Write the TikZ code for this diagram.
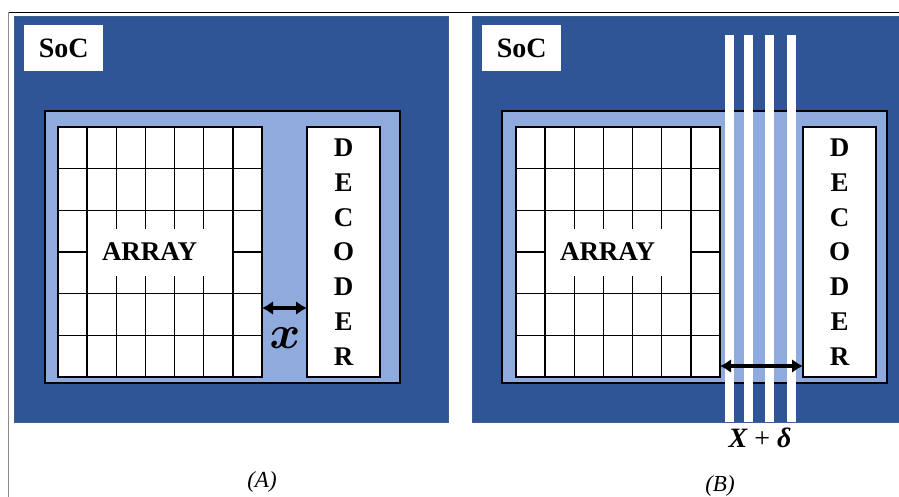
\documentclass[tikz,border=0pt]{standalone}
\usepackage{amsmath}
\usepackage{fontspec}
\setmainfont{Liberation Serif}
\usetikzlibrary{arrows.meta,calc}
\definecolor{socblue}{HTML}{2F5597}
\definecolor{socedge}{HTML}{3D5F92}
\definecolor{coreblue}{HTML}{8FAADC}
\definecolor{framegray}{HTML}{8C8C8C}
\tikzset{
  socpanel/.style={draw=socedge,fill=socblue,line width=0.8pt,anchor=north west,inner sep=0pt,outer sep=0pt},
  corebox/.style={draw=black,fill=coreblue,line width=2.4pt,anchor=north west,inner sep=0pt,outer sep=0pt},
  arraygrid/.style={draw=black,fill=white,line width=1.6pt,anchor=north west,minimum width=204pt,minimum height=250pt,inner sep=0pt,outer sep=0pt},
  gridline/.style={line width=1.4pt},
  lblbox/.style={fill=white,minimum height=47pt,text width=116pt,inner xsep=14pt,inner ysep=0pt,align=left,font=\fontsize{27}{29}\selectfont\bfseries},
  decbox/.style={draw=black,fill=white,line width=1.6pt,anchor=north west,minimum width=73pt,minimum height=250pt,inner sep=0pt,outer sep=0pt,align=center,font=\fontsize{27}{34.8}\selectfont\bfseries},
  tagbox/.style={fill=white,anchor=north west,minimum width=79pt,minimum height=46pt,inner sep=0pt,font=\fontsize{28}{30}\selectfont\bfseries},
  dimarr/.style={{Latex[length=11pt,width=14pt]}-{Latex[length=11pt,width=14pt]},line width=3.6pt},
  subcap/.style={font=\fontsize{23}{25}\selectfont\itshape}
}

\begin{document}
\begin{tikzpicture}[x=1pt,y=-1pt]
  \useasboundingbox (0,0) rectangle (899,497);
  \draw[line width=0.8pt] (8,12) -- (899,12);
  \draw[framegray,line width=1pt] (8,12) -- (8,497);

  % (A) array and decoder at distance x
  \node[socpanel,minimum width=434pt,minimum height=406pt] (socA) at (14,16) {};
  \node[tagbox] (tagA) at (24,25) {SoC};
  \node[corebox,minimum width=355pt,minimum height=272pt] (coreA) at (45,111) {};
  \node[arraygrid] (arrA) at (58,127) {};
  \foreach \i in {1,...,6}
    \draw[gridline] ($(arrA.north west)!\i/7!(arrA.north east)$) -- ($(arrA.south west)!\i/7!(arrA.south east)$);
  \foreach \j in {1,...,5}
    \draw[gridline] ($(arrA.north west)!\j/6!(arrA.south west)$) -- ($(arrA.north east)!\j/6!(arrA.south east)$);
  \node[lblbox] (lblA) at (arrA.center) {ARRAY};
  \node[decbox] (decA) at (307,127) {D\\E\\C\\O\\D\\E\\R};
  \coordinate (ya) at (0,308);
  \draw[dimarr] (arrA.east |- ya) -- (decA.west |- ya);
  \node[inner sep=0pt] (xlbl) at (285,338) {\scalebox{2.7}{\LARGE$\boldsymbol{x}$}};
  \node[subcap] (capA) at (262,482) {(A)};

  % (B) wires routed through the gap
  \node[socpanel,minimum width=428pt,minimum height=406pt] (socB) at (472,16) {};
  \node[tagbox] (tagB) at (482,25) {SoC};
  \node[corebox,minimum width=385pt,minimum height=272pt] (coreB) at (502,111) {};
  \node[arraygrid] (arrB) at (516,127) {};
  \foreach \i in {1,...,6}
    \draw[gridline] ($(arrB.north west)!\i/7!(arrB.north east)$) -- ($(arrB.south west)!\i/7!(arrB.south east)$);
  \foreach \j in {1,...,5}
    \draw[gridline] ($(arrB.north west)!\j/6!(arrB.south west)$) -- ($(arrB.north east)!\j/6!(arrB.south east)$);
  \node[lblbox] (lblB) at (arrB.center) {ARRAY};
  \node[decbox] (decB) at (803,127) {D\\E\\C\\O\\D\\E\\R};
  \foreach \sx in {725,744,765,787}
    \fill[white] (\sx,35) rectangle ++(9,387);
  \coordinate (yb) at (0,366);
  \draw[dimarr] (arrB.east |- yb) -- (decB.west |- yb);
  \node[font=\fontsize{28}{30}\selectfont] (dlbl) at (760,438) {{\bfseries\itshape X} + {\bfseries\itshape δ}};
  \node[subcap] (capB) at (720,486) {(B)};
\end{tikzpicture}
\end{document}
